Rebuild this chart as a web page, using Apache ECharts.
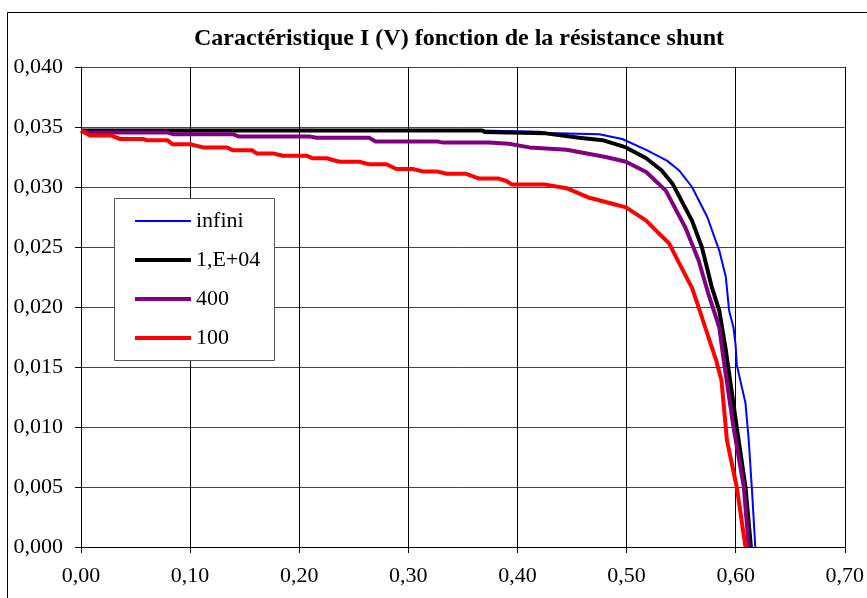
<!DOCTYPE html>
<html>
<head>
<meta charset="utf-8">
<script src="https://cdn.jsdelivr.net/npm/echarts@6/dist/echarts.min.js"></script>
<style>
  html, body { margin: 0; padding: 0; background: #fff; }
  #chart { width: 867px; height: 598px; }
</style>
</head>
<body>
<div id="chart"></div>
<script>
// tension (V) / courant (A), one pair of arrays per curve
const vInfini = [0, 0.10, 0.20, 0.30, 0.365, 0.42, 0.426, 0.475, 0.496, 0.518, 0.537, 0.548, 0.560, 0.574, 0.585, 0.591, 0.594, 0.598, 0.600, 0.601, 0.609, 0.612, 0.615, 0.618];
const iInfini = [0.0347, 0.0347, 0.0347, 0.0347, 0.0347, 0.0346, 0.0345, 0.0344, 0.0340, 0.0331, 0.0322, 0.0314, 0.0300, 0.0275, 0.0247, 0.0225, 0.0197, 0.0183, 0.0168, 0.0152, 0.0120, 0.0089, 0.0047, 0];

const v1e4 = [0, 0.368, 0.37, 0.426, 0.4565, 0.478, 0.4995, 0.518, 0.532, 0.542, 0.560, 0.569, 0.578, 0.585, 0.591, 0.601, 0.609, 0.614];
const i1e4 = [0.0347, 0.0347, 0.03458, 0.03447, 0.0341, 0.0339, 0.0333, 0.0324, 0.0314, 0.0303, 0.0272, 0.0250, 0.0217, 0.0197, 0.0164, 0.0100, 0.0050, 0];

const v400 = [0, 0.005, 0.079, 0.085, 0.139, 0.145, 0.21, 0.216, 0.264, 0.27, 0.326, 0.332, 0.374, 0.392, 0.411, 0.445, 0.481, 0.4995, 0.518, 0.536, 0.554, 0.566, 0.575, 0.585, 0.589, 0.598, 0.6075, 0.612];
const i400 = [0.0347, 0.03455, 0.03455, 0.0344, 0.0344, 0.0342, 0.0342, 0.0341, 0.0341, 0.0338, 0.0338, 0.0337, 0.0337, 0.0336, 0.0333, 0.0331, 0.0325, 0.0321, 0.03125, 0.0297, 0.0266, 0.0239, 0.0211, 0.0183, 0.0156, 0.0100, 0.0050, 0];

const v100 = [0, 0.008, 0.027, 0.036, 0.057, 0.06, 0.079, 0.084, 0.10, 0.112, 0.134, 0.139, 0.157, 0.161, 0.176, 0.185, 0.207, 0.212, 0.225, 0.237, 0.255, 0.264, 0.28, 0.289, 0.304, 0.313, 0.326, 0.335, 0.353, 0.365, 0.383, 0.39, 0.395, 0.426, 0.445, 0.466, 0.487, 0.4995, 0.518, 0.530, 0.539, 0.548, 0.560, 0.566, 0.575, 0.582, 0.587, 0.592, 0.601, 0.609];
const i100 = [0.0347, 0.0343, 0.0343, 0.0340, 0.0340, 0.0339, 0.0339, 0.03356, 0.03356, 0.0333, 0.0333, 0.03306, 0.03306, 0.0328, 0.0328, 0.0326, 0.0326, 0.0324, 0.0324, 0.0321, 0.0321, 0.0319, 0.0319, 0.0315, 0.0315, 0.0313, 0.0313, 0.0311, 0.0311, 0.0307, 0.0307, 0.0305, 0.0302, 0.0302, 0.0299, 0.0291, 0.0286, 0.0283, 0.0272, 0.0261, 0.0253, 0.0237, 0.0216, 0.0200, 0.0175, 0.0156, 0.0139, 0.0089, 0.0050, 0];

const seriesNames = ['infini', '1,E+04', '400', '100'];
const seriesColors = ['#0000ff', '#000000', '#800080', '#ff0000'];
const seriesWidths = [2, 4, 4, 4];

const font = 'Liberation Serif';

function pairs(xs, ys) {
  return xs.map((x, k) => [x, ys[k]]);
}

const curves = [pairs(vInfini, iInfini), pairs(v1e4, i1e4), pairs(v400, i400), pairs(v100, i100)];

const chart = echarts.init(document.getElementById('chart'));
chart.setOption({
  animation: false,
  title: {
    text: 'Caractéristique I (V) fonction de la résistance shunt',
    left: 454,
    top: 22,
    textAlign: 'center',
    textStyle: { fontFamily: font, fontWeight: 'bold', fontSize: 24, color: '#000' }
  },
  graphic: [
    {
      type: 'rect',
      z: -10,
      shape: { x: 7.5, y: 12.5, width: 870, height: 600 },
      style: { fill: '#fff', stroke: '#000', lineWidth: 1 }
    },
    {
      type: 'rect',
      z: 10,
      shape: { x: 114.5, y: 198.5, width: 160, height: 162 },
      style: { fill: '#fff', stroke: '#555', lineWidth: 1 }
    }
  ],
  legend: {
    orient: 'vertical',
    left: 114,
    top: 198,
    z: 20,
    padding: [12, 12, 15, 19],
    itemWidth: 56,
    itemHeight: 14,
    itemGap: 17,
    itemStyle: { opacity: 0 },
    textStyle: { fontFamily: font, fontSize: 22, color: '#000', lineHeight: 20 },
    data: seriesNames.map((name, k) => ({
      name: name,
      lineStyle: { color: seriesColors[k], width: seriesWidths[k] }
    }))
  },
  grid: { left: 81, right: 21, top: 67, bottom: 51 },
  xAxis: {
    type: 'value',
    min: 0,
    max: 0.7,
    interval: 0.1,
    axisLine: { onZero: false, lineStyle: { color: '#000' } },
    axisTick: { show: true, length: 6, lineStyle: { color: '#000' } },
    axisLabel: {
      margin: 18,
      color: '#000',
      fontFamily: font,
      fontSize: 22,
      formatter: v => v.toFixed(2).replace('.', ',')
    },
    splitLine: { show: true, lineStyle: { color: '#000', width: 1 } }
  },
  yAxis: {
    type: 'value',
    min: 0,
    max: 0.04,
    interval: 0.005,
    axisLine: { show: true, lineStyle: { color: '#000' } },
    axisTick: { show: true, length: 6, lineStyle: { color: '#000' } },
    axisLabel: {
      margin: 18,
      color: '#000',
      fontFamily: font,
      fontSize: 22,
      formatter: v => v.toFixed(3).replace('.', ',')
    },
    splitLine: { show: true, lineStyle: { color: '#444', width: 1 } }
  },
  series: curves.map((data, k) => ({
    name: seriesNames[k],
    type: 'line',
    data: data,
    symbol: 'none',
    color: seriesColors[k],
    lineStyle: { color: seriesColors[k], width: seriesWidths[k] }
  }))
});
</script>
</body>
</html>
